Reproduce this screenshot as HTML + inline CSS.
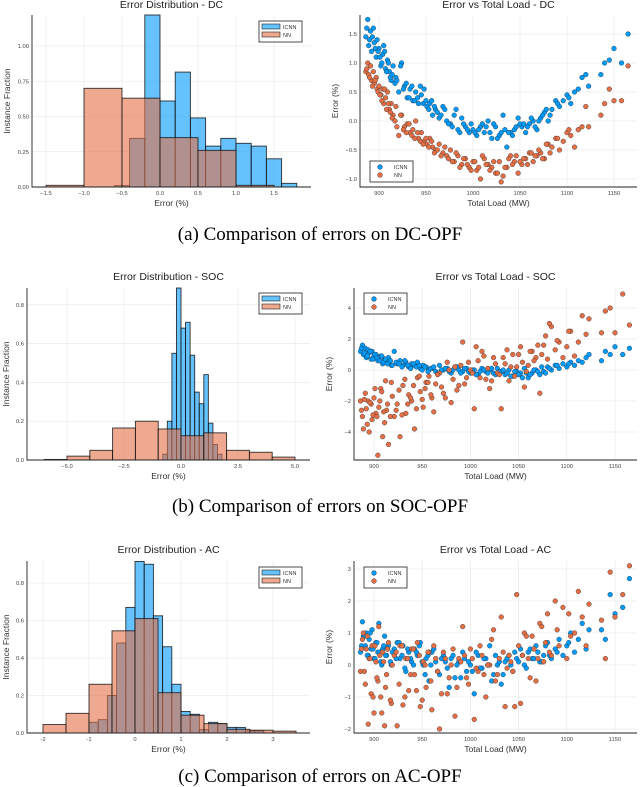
<!DOCTYPE html>
<html><head><meta charset="utf-8">
<style>
html,body{margin:0;padding:0;background:#fff;}
svg{display:block;font-family:"Liberation Sans",sans-serif;}
.cap{font-family:"Liberation Serif",serif;font-size:19px;}
</style></head>
<body>
<svg id="fig" width="640" height="787" viewBox="0 0 640 787" xmlns="http://www.w3.org/2000/svg">
<text class="cap" x="320" y="240" text-anchor="middle">(a) Comparison of errors on DC-OPF</text>
<text class="cap" x="320" y="512" text-anchor="middle">(b) Comparison of errors on SOC-OPF</text>
<text class="cap" x="320" y="782" text-anchor="middle">(c) Comparison of errors on AC-OPF</text>
</svg>
<script>
// ---------- histogram data ----------
const dcIcnnEdges = [-0.6,-0.4,-0.2,0,0.2,0.4,0.6,0.8,1.0,1.2,1.4,1.6,1.8];
const dcIcnnHeights = [0.01,0.345,1.22,0.61,0.815,0.49,0.29,0.345,0.31,0.29,0.2,0.026];
const dcNnEdges = [-1.5,-1.0,-0.5,0,0.5,1.0,1.5];
const dcNnHeights = [0.012,0.70,0.63,0.35,0.26,0.012];

const socIcnnEdges = [-0.8,-0.6,-0.4,-0.2,0,0.2,0.4,0.6,0.8,1.0,1.2,1.4,1.6,1.8];
const socIcnnHeights = [0.03,0.2,0.55,0.89,0.68,0.71,0.54,0.35,0.29,0.44,0.19,0.08,0.03];
const socNnEdges = [-6,-5,-4,-3,-2,-1,0,1,2,3,4,5];
const socNnHeights = [0.003,0.02,0.05,0.165,0.2,0.16,0.125,0.14,0.05,0.04,0.015];

const acIcnnEdges = [-1,-0.8,-0.6,-0.4,-0.2,0,0.2,0.4,0.6,0.8,1.0,1.2,1.4,1.6,1.8,2.0,2.2,2.4,2.6,2.8];
const acIcnnHeights = [0.057,0.071,0.2,0.48,0.67,0.915,0.9,0.625,0.46,0.26,0.115,0.1,0.018,0.057,0.05,0.03,0.03,0.012,0.012];
const acNnEdges = [-2,-1.5,-1,-0.5,0,0.5,1,1.5,2,2.5,3,3.5];
const acNnHeights = [0.045,0.105,0.26,0.545,0.61,0.215,0.095,0.05,0.02,0.015,0.01];

// ---------- scatter data ----------
const loadA = [886,888,889,891,892,894,895,897,898,900,902,904,905,907,909,911,913,915,918,921,924,927,930,933,936,939,942,945,948,951,954,957,960,964,968,972,976,980,984,988,992,996,1000,1004,1008,1012,1016,1020,1024,1028,1032,1036,1040,1044,1048,1052,1056,1060,1064,1068,1072,1076,1080,1084,1088,1092,1096,1100,1104,1108,1112,1116,1120,1123,1136,1140,1145,1150,1158,1165];
const loadB = [887,890,893,896,899,901,903,906,908,910,912,914,917,919,923,926,929,932,935,938,941,944,947,950,953,956,959,962,966,970,974,978,982,986,990,994,998,1002,1006,1010,1014,1018,1022,1026,1030,1034,1038,1042,1046,1050,1054,1058,1062,1066,1070,1074,1078,1082,1090,1102];

const dcIcnnErrA = [1.45,1.75,1.3,1.55,1.2,1.6,1.35,1.1,1.4,1.25,0.95,1.15,1.3,0.9,1.05,0.85,0.7,0.95,0.75,0.5,1.0,0.6,0.4,0.55,0.35,0.5,0.3,0.45,0.55,0.25,0.3,0.1,0.2,0.05,0.25,0.0,-0.05,0.1,-0.15,0.05,-0.1,-0.2,-0.15,-0.25,-0.1,-0.2,0.0,-0.3,-0.1,-0.25,0.1,-0.45,-0.2,-0.15,0.05,-0.1,-0.2,-0.05,0.0,-0.15,0.05,0.15,0.0,0.2,0.35,0.25,0.35,0.45,0.3,0.5,0.55,0.75,0.8,0.6,0.8,1.0,1.05,1.25,1.0,1.5];
const dcIcnnErrB = [1.6,1.4,1.45,1.25,1.2,1.1,1.0,1.2,0.85,1.0,0.75,0.8,0.65,0.7,0.95,0.55,0.65,0.4,0.6,0.35,0.4,0.6,0.3,0.35,0.2,0.35,0.25,0.15,0.1,0.2,-0.05,-0.1,0.2,-0.2,-0.05,-0.15,-0.05,-0.2,-0.15,-0.05,-0.1,-0.2,-0.05,-0.3,-0.2,-0.15,-0.2,-0.25,-0.1,-0.05,-0.05,-0.1,0.05,-0.1,0.0,0.1,0.2,0.1,0.3,0.4];
const dcNnErrA = [0.85,1.0,0.8,0.95,0.7,0.85,0.65,0.75,0.55,0.6,0.45,0.55,0.3,0.4,0.5,0.2,0.3,0.1,0.25,-0.25,0.1,-0.1,-0.05,-0.2,-0.15,0.0,-0.3,-0.2,-0.35,-0.4,-0.3,-0.45,-0.5,-0.4,-0.55,-0.6,-0.5,-0.7,-0.6,-0.75,-0.65,-0.8,-0.7,-0.85,-1.0,-0.65,-0.75,-0.8,-0.9,-0.7,-0.95,-0.8,-0.6,-0.7,-0.9,-0.75,-0.65,-0.55,-0.7,-0.6,-0.55,-0.65,-0.4,-0.45,-0.3,-0.5,-0.35,-0.2,-0.25,-0.45,-0.15,-0.1,0.25,-0.1,0.1,0.3,0.55,0.35,0.35,0.95];
const dcNnErrB = [0.9,0.75,0.6,0.7,0.5,0.45,0.35,0.55,0.2,0.3,0.15,0.05,0.0,-0.1,0.1,-0.15,-0.2,-0.05,-0.25,-0.3,-0.2,-0.35,-0.4,-0.3,-0.45,-0.35,-0.55,-0.5,-0.6,-0.45,-0.65,-0.7,-0.55,-0.8,-0.65,-0.75,-0.85,-0.7,-0.8,-0.6,-0.75,-0.85,-0.7,-0.9,-1.05,-0.8,-0.65,-0.75,-0.6,-0.7,-0.65,-0.75,-0.55,-0.6,-0.5,-0.65,-0.4,-0.55,-0.3,-0.15];

const socIcnnErrA = [1.2,1.6,1.0,1.4,0.8,1.3,1.1,0.7,1.2,0.9,1.0,0.6,0.8,0.9,0.4,0.7,0.5,0.8,0.3,1.2,0.4,0.6,0.3,0.5,0.2,0.4,0.3,0.5,0.1,0.3,0.2,0.0,0.1,-0.1,0.3,0.0,0.1,-0.2,0.2,0.0,-0.1,0.1,-0.2,0.0,-0.3,0.1,-0.1,0.0,-0.2,0.1,-0.1,-0.3,0.0,-0.4,-0.1,-0.2,0.1,-0.5,-0.2,0.0,-0.3,-0.1,0.2,0.0,0.3,0.1,0.4,0.2,0.5,0.3,0.6,0.5,0.8,1.0,0.6,1.2,1.0,1.5,1.0,1.4];
const socIcnnErrB = [1.4,1.1,0.9,1.2,0.7,1.0,0.8,0.6,0.9,0.5,0.7,0.4,0.6,0.3,0.5,0.4,0.2,0.6,0.3,0.1,0.4,0.2,0.3,0.0,0.2,-0.1,0.1,0.2,-0.2,0.0,0.1,-0.1,0.0,0.2,-0.2,0.1,-0.1,0.0,-0.3,-0.1,0.0,-0.2,0.1,-0.3,-0.1,0.0,-0.2,-0.4,-0.1,-0.3,-0.5,-0.2,-0.3,0.0,-0.1,0.2,-0.2,0.1,0.3,0.4];
const socNnErrA = [-2.0,-3.0,-3.8,-1.5,-2.5,-2.0,-4.0,-2.2,-3.2,-1.8,-2.8,-5.5,-2.4,-1.2,-4.3,-3.4,-2.6,-4.8,-0.8,-3.0,-2.2,-4.3,-1.0,-2.8,-1.6,-2.0,-3.8,-0.5,-1.4,-2.4,-0.8,-0.4,-1.8,-0.9,-0.2,-1.5,0.5,-2.1,0.2,-1.0,1.8,-0.5,0.0,-2.5,0.6,1.2,-0.6,-1.2,0.8,-0.2,-2.5,0.4,-0.7,1.0,0.2,1.5,-1.1,0.3,1.2,0.8,-1.5,1.6,0.7,2.8,1.3,1.8,0.8,1.5,2.5,0.9,1.8,3.5,2.3,3.3,2.4,3.8,4.0,2.4,4.9,2.9];
const socNnErrB = [-2.6,-1.9,-3.5,-2.1,-2.9,-1.2,-3.0,-2.0,-1.4,-2.7,-0.7,-2.2,-3.0,-1.7,-2.6,-1.3,-2.9,-0.6,-2.2,-1.8,-1.0,-2.5,-0.4,-1.9,-1.2,-0.8,-1.6,-2.7,-0.3,-1.1,-1.8,0.0,-0.6,-1.3,0.3,-0.9,0.5,-0.2,1.5,-0.5,0.9,0.1,-0.7,0.4,-0.3,0.8,1.3,0.2,-0.4,1.0,0.5,-0.1,1.2,0.6,1.6,1.0,2.2,3.0,1.9,2.5];

const acIcnnErrA = [0.4,1.35,0.9,0.6,1.0,0.3,0.8,0.5,1.1,0.2,0.7,0.4,1.3,0.1,0.5,0.9,0.3,0.6,0.0,0.5,0.7,0.2,0.6,-0.2,0.4,0.1,0.5,0.3,0.7,0.0,0.2,-0.5,0.4,0.1,-0.3,0.3,-0.1,0.2,-0.4,0.1,0.4,-0.2,0.0,-0.9,0.3,-0.1,0.2,0.6,-0.3,0.0,-0.6,0.1,0.3,-0.2,0.2,0.5,0.0,0.4,0.2,0.6,0.1,0.3,0.7,0.2,0.5,0.8,0.3,0.6,1.0,0.4,0.8,1.3,0.5,1.1,1.1,0.8,2.2,1.6,1.8,2.7];
const acIcnnErrB = [0.6,0.9,0.3,1.0,0.5,0.2,0.7,0.4,0.0,0.6,0.3,0.5,0.1,0.4,0.2,0.7,0.3,-0.1,0.5,0.2,0.0,0.4,0.6,0.1,-0.3,0.3,0.0,0.5,-0.2,0.2,0.1,-0.7,0.3,0.0,-0.4,0.2,0.1,-0.2,0.4,-0.1,0.2,0.0,-0.5,0.3,0.1,-0.3,0.2,0.0,0.4,0.1,0.3,-0.1,0.5,0.2,0.4,0.1,0.6,0.3,0.4,0.7];
const acNnErrA = [-0.2,0.8,1.0,-0.6,0.5,-1.85,0.2,-0.9,0.6,-1.5,0.1,-0.5,1.2,-1.0,0.4,-1.9,-0.3,0.7,-1.2,0.3,-1.9,0.6,-1.25,0.2,-0.8,0.5,-0.3,0.7,-1.3,0.1,-0.7,0.4,-1.4,0.2,-2.0,0.4,-0.9,0.0,-1.6,0.2,1.2,-0.4,0.5,-1.7,-0.2,0.3,-1.0,0.0,1.1,-0.3,1.5,-1.3,0.3,-0.2,2.2,-1.2,1.0,0.2,0.9,-0.5,1.3,0.1,1.6,0.3,2.0,0.6,1.8,0.2,0.9,1.0,2.3,1.5,0.6,1.9,1.4,0.2,2.9,1.5,2.2,3.1];
const acNnErrB = [0.5,-0.2,0.9,0.2,-1.0,0.6,-0.4,0.3,-1.5,0.1,-0.7,0.5,-1.1,0.0,0.4,-0.6,0.6,-1.0,0.2,-0.3,0.5,-0.8,0.3,-1.1,0.0,0.4,-0.5,0.6,-0.2,-0.9,0.2,-0.4,0.5,-0.7,0.1,0.3,-0.6,0.2,-0.1,0.6,-0.3,0.0,0.8,-0.5,0.2,0.4,-0.1,0.1,-1.3,0.6,0.3,0.9,-0.4,0.5,0.2,1.2,0.7,0.4,1.1,1.6];

// ---------- tick labels ----------
const dcHistXTicks = [-1.5,-1.0,-0.5,0.0,0.5,1.0,1.5];
const dcHistYTicks = [0,0.25,0.5,0.75,1.0];
const socHistXTicks = [-5,-2.5,0,2.5,5];
const histYTicks08 = [0,0.2,0.4,0.6,0.8];
const acHistXTicks = [-2,-1,0,1,2,3];
const loadTicks = [900,950,1000,1050,1100,1150];
const dcScatYTicks = [-1.0,-0.5,0.0,0.5,1.0,1.5];
const socScatYTicks = [-4,-2,0,2,4];
const acScatYTicks = [-2,-1,0,1,2,3];

const NS = 'http://www.w3.org/2000/svg';
const svg = document.getElementById('fig');
const BLUE = '#009AFA', ORANGE = '#E26F46';

function mk(tag, attrs, parent) {
  const e = document.createElementNS(NS, tag);
  for (const k in attrs) e.setAttribute(k, attrs[k]);
  (parent || svg).appendChild(e);
  return e;
}
function fmt(v, d) { const s = v.toFixed(d); return v < 0 ? '\u2212' + s.slice(1) : s; }

function frame(g, p, xs, ys, xticks, yticks, xd, yd, title, xlabel) {
  xticks.forEach(t => { const l = mk('line', {x1: xs(t), x2: xs(t), y1: p.y0, y2: p.y1, stroke: '#e6e6e6', 'stroke-width': 0.6}, g);
    
     });
  yticks.forEach(t => { const l = mk('line', {x1: p.x0, x2: p.x1, y1: ys(t), y2: ys(t), stroke: '#e6e6e6', 'stroke-width': 0.6}, g);
    
     });
  const t = mk('text', {x: (p.x0 + p.x1) / 2, y: p.ty, 'text-anchor': 'middle', 'font-size': 10.5, fill: '#222'}, g);
  t.textContent = title;
  
  
  const xl = mk('text', {x: (p.x0 + p.x1) / 2, y: p.y1 + 19, 'text-anchor': 'middle', 'font-size': 8.5, fill: '#333'}, g);
  xl.textContent = xlabel;
  
  
  const yc = (p.y0 + p.y1) / 2, yx = Math.max(p.x0 - 22, 9);
  const yl = mk('text', {x: yx, y: yc, 'text-anchor': 'middle', 'font-size': 8.5, fill: '#333', transform: `rotate(-90 ${yx} ${yc})`}, g);
  yl.textContent = p.ylabel;
  
  
  xticks.forEach(v => {
    const tx = mk('text', {x: xs(v), y: p.y1 + 8, 'text-anchor': 'middle', 'font-size': 5.8, fill: '#444'}, g);
    tx.textContent = xd < 0 ? String(v) : fmt(v, xd);
    
    
  });
  yticks.forEach(v => {
    const ty = mk('text', {x: p.x0 - 3, y: ys(v) + 2, 'text-anchor': 'end', 'font-size': 5.8, fill: '#444'}, g);
    ty.textContent = yd < 0 ? fmt(v, 0) : fmt(v, yd);
    
    
  });
}
function axes(g, p) {
  const a = mk('path', {d: `M${p.x0},${p.y0}V${p.y1}H${p.x1}`, fill: 'none', stroke: '#222', 'stroke-width': 0.9}, g);
  
  
}
function legend(g, x, y, scatter) {
  const lg = mk('g', {}, g);
  
  
  mk('rect', {x: x, y: y, width: 43, height: 21, fill: '#fff', stroke: '#222', 'stroke-width': 0.8}, lg);
  [['ICNN', BLUE, 8], ['NN', ORANGE, 16]].forEach(([n, c, dy]) => {
    if (scatter) mk('circle', {cx: x + 10, cy: y + dy - 2, r: 2.4, fill: c, stroke: '#222', 'stroke-width': 0.4}, lg);
    else mk('rect', {x: x + 3, y: y + dy - 5, width: 18, height: 5, fill: c, 'fill-opacity': 0.6, stroke: '#222', 'stroke-width': 0.6}, lg);
    const e = mk('text', {x: x + 24, y: y + dy, 'font-size': 5.5, fill: '#333'}, lg);
    e.textContent = n;
    
    
  });
}
function hist(name, p, xv0, xk, yk, xticks, yticks, xd, yd, edgesI, hI, edgesN, hN, title) {
  const g = mk('g', {});
  
  
  const xs = v => xv0 + v * xk, ys = v => p.y1 - v * yk;
  p.ylabel = 'Instance Fraction';
  frame(g, p, xs, ys, xticks, yticks, xd, yd, title, 'Error (%)');
  [[edgesI, hI, BLUE, 'icnn'], [edgesN, hN, ORANGE, 'nn']].forEach(([ed, hs, c, s]) => {
    hs.forEach((h, i) => {
      const top = Math.max(ys(h), p.y0);
      const r = mk('rect', {x: xs(ed[i]), y: top, width: xs(ed[i + 1]) - xs(ed[i]), height: p.y1 - top, fill: c, 'fill-opacity': 0.6, stroke: '#111', 'stroke-width': 0.9, 'stroke-opacity': 0.85}, g);
      
      
    });
  });
  axes(g, p);
  legend(g, p.lx, p.ly, false);
}
function scat(name, p, yv0, yk, yticks, yd, sets, title) {
  const g = mk('g', {});
  
  
  const xs = L => p.x900 + (L - 900) * p.xk, ys = v => yv0 - v * yk;
  p.ylabel = 'Error (%)';
  frame(g, p, xs, ys, loadTicks, yticks, -1, yd, title, 'Total Load (MW)');
  sets.forEach(([loads, errs, c, s]) => {
    errs.forEach((e, i) => {
      const pt = mk('circle', {cx: xs(loads[i]), cy: ys(e), r: 2.4, fill: c, stroke: '#222', 'stroke-width': 0.35}, g);
      
      
    });
  });
  axes(g, p);
  legend(g, p.lx, p.ly, true);
}

hist('dc-error-histogram', {x0: 32, x1: 311, y0: 15, y1: 187, ty: 8, lx: 259, ly: 21}, 160, 76, 141,
  dcHistXTicks, dcHistYTicks, 1, 2, dcIcnnEdges, dcIcnnHeights, dcNnEdges, dcNnHeights, 'Error Distribution - DC');
hist('soc-error-histogram', {x0: 27, x1: 310, y0: 288, y1: 460, ty: 280, lx: 259, ly: 293}, 181, 22.8, 194,
  socHistXTicks, histYTicks08, 1, 1, socIcnnEdges, socIcnnHeights, socNnEdges, socNnHeights, 'Error Distribution - SOC');
hist('ac-error-histogram', {x0: 27, x1: 310, y0: 561, y1: 733, ty: 553, lx: 259, ly: 567}, 135, 46, 187.5,
  acHistXTicks, histYTicks08, -1, 1, acIcnnEdges, acIcnnHeights, acNnEdges, acNnHeights, 'Error Distribution - AC');

scat('dc-error-scatter', {x0: 360, x1: 637, y0: 15, y1: 187, ty: 8, lx: 370, ly: 161, x900: 379, xk: 0.94}, 121, 58,
  dcScatYTicks, 1, [[loadA, dcNnErrA, ORANGE, 'nn'], [loadB, dcNnErrB, ORANGE, 'nn'], [loadA, dcIcnnErrA, BLUE, 'icnn'], [loadB, dcIcnnErrB, BLUE, 'icnn']], 'Error vs Total Load - DC');
scat('soc-error-scatter', {x0: 354, x1: 637, y0: 288, y1: 460, ty: 280, lx: 364, ly: 293, x900: 374, xk: 0.964}, 370, 15.5,
  socScatYTicks, -1, [[loadA, socIcnnErrA, BLUE, 'icnn'], [loadB, socIcnnErrB, BLUE, 'icnn'], [loadA, socNnErrA, ORANGE, 'nn'], [loadB, socNnErrB, ORANGE, 'nn']], 'Error vs Total Load - SOC');
scat('ac-error-scatter', {x0: 354, x1: 637, y0: 561, y1: 733, ty: 553, lx: 364, ly: 567, x900: 374, xk: 0.964}, 665, 32,
  acScatYTicks, -1, [[loadA, acIcnnErrA, BLUE, 'icnn'], [loadB, acIcnnErrB, BLUE, 'icnn'], [loadA, acNnErrA, ORANGE, 'nn'], [loadB, acNnErrB, ORANGE, 'nn']], 'Error vs Total Load - AC');
</script>
</body></html>
